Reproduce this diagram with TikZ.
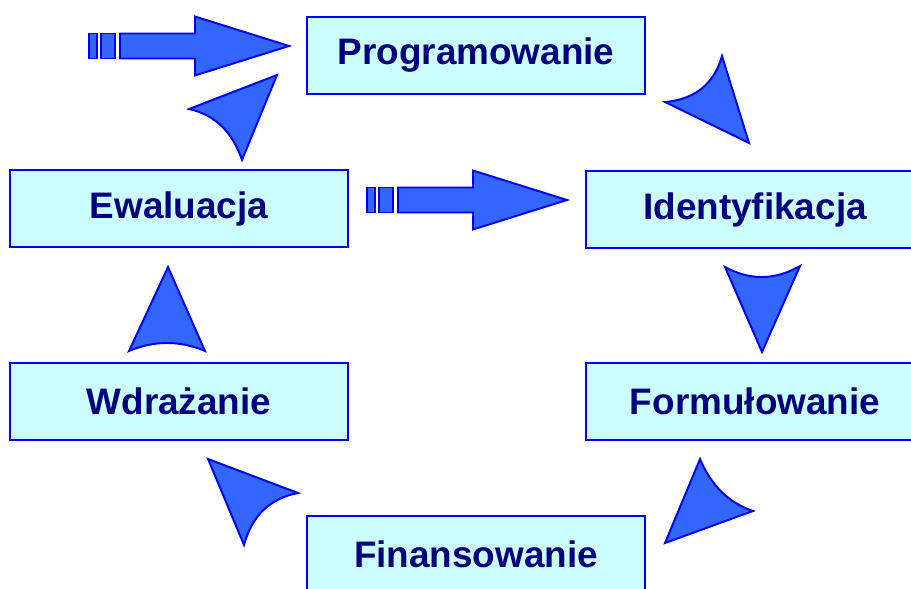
\documentclass[tikz,border=0pt]{standalone}
\usepackage{fontspec}
\setmainfont{Liberation Sans}
\definecolor{ramka}{RGB}{0,0,255}
\definecolor{tlo}{RGB}{204,255,255}
\definecolor{napis}{RGB}{0,0,128}
\definecolor{grot}{RGB}{51,102,255}
\tikzset{
  etap/.style={draw=ramka, fill=tlo, line width=1.1pt, minimum width=6.76cm,
    minimum height=1.54cm, inner sep=0pt, text=napis,
    font=\fontsize{21}{25}\selectfont\bfseries},
  grotka/.style={draw=ramka, fill=grot, line width=1.1pt, line join=miter}
}
\begin{document}
\begin{tikzpicture}[x=0.02cm, y=-0.02cm]
  \useasboundingbox (0,0) rectangle (911,588);
  % Etapy cyklu
  \node[etap] (prog)  at (476,55.5)  {Programowanie};
  \node[etap] (ewal)  at (179,208.5) {Ewaluacja};
  \node[etap] (ident) at (755,209.5) {Identyfikacja};
  \node[etap] (wdr)   at (179,401.5) {Wdrażanie};
  \node[etap] (form)  at (755,401.5) {Formułowanie};
  \node[etap] (fin)   at (476,554.5) {Finansowanie};
  % Strzalki blokowe (paski + trzon + grot)
  \foreach \sx/\sy in {89/46, 367/200} {
    \begin{scope}[shift={(\sx,\sy)}]
      \draw[grotka] (0,-12.5) rectangle (8,12.5);
      \draw[grotka] (12,-12.5) rectangle (26,12.5);
      \draw[grotka] (31,-12.5) -- (106,-12.5) -- (106,-29.5) -- (200,0)
        -- (106,29.5) -- (106,12.5) -- (31,12.5) -- cycle;
    \end{scope}
  }
  % Groty cyklu
  \draw[grotka] (277,75) -- (189,109)
    .. controls (214.7,114.7) and (232.3,131.7) .. (242,160) -- cycle;
  \draw[grotka] (665,102)
    .. controls (695,99.3) and (714,84) .. (722,56) -- (749,143) -- cycle;
  \draw[grotka] (725,267)
    .. controls (750,280.7) and (775,280.3) .. (800,266) -- (762,352) -- cycle;
  \draw[grotka] (168,267) -- (205,351)
    .. controls (179.7,340.3) and (154.3,340.3) .. (129,351) -- cycle;
  \draw[grotka] (208,459) -- (298,493)
    .. controls (270,498.3) and (252,515.7) .. (244,545) -- cycle;
  \draw[grotka] (700,459)
    .. controls (711.3,485.7) and (729,503) .. (753,511) -- (665,543) -- cycle;
\end{tikzpicture}
\end{document}
